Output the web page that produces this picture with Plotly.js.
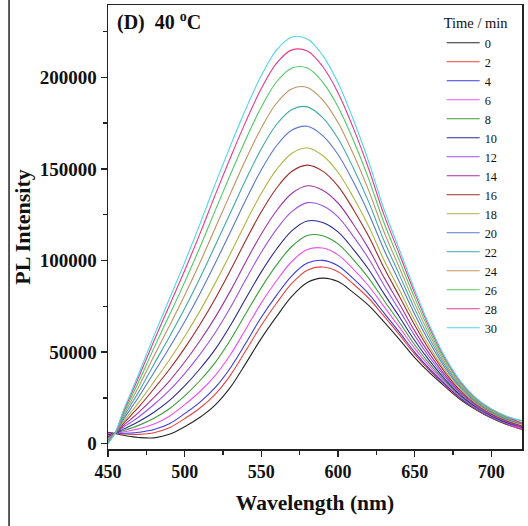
<!DOCTYPE html>
<html>
<head>
<meta charset="utf-8">
<script src="https://cdn.plot.ly/plotly-3.0.1.min.js"></script>
<style>html,body{margin:0;padding:0;background:#fff;}#chart{width:528px;height:526px;}</style>
</head>
<body>
<div id="chart"></div>
<script>
const wavelength = [450,455,460,465,470,480,490,500,510,520,530,540,550,560,570,580,590,600,610,620,630,640,650,660,670,680,690,700,710,720];
const timeLabels = ["0","2","4","6","8","10","12","14","16","18","20","22","24","26","28","30"];
const t0  = [6200,5500,4600,3900,3400,3200,5100,9200,14400,21200,31000,44000,57500,69500,80500,88000,90400,88500,82500,75500,66500,57000,47000,38500,31000,24000,18500,14000,10500,8000];
const t2  = [5900,5600,5300,5100,5100,6000,8700,13700,19500,27100,37600,51000,64700,76800,87600,94700,96500,93900,87200,79400,69600,59500,48900,39800,31800,24500,18800,14300,10700,7600];
const t4  = [5700,5600,5700,5800,6200,7700,10900,16400,22700,30700,41600,55100,69000,81100,91800,98600,100100,97200,90100,81800,71400,60900,50000,40500,32300,24800,19000,14400,10900,8200];
const t6  = [5400,5600,6400,7200,8100,10700,15000,21300,28500,37300,48800,62800,76900,89100,99600,106000,106800,103100,95300,86100,74800,63600,52000,41900,33200,25400,19400,14700,11100,8300];
const t8  = [5000,5700,7100,8500,10000,13900,19100,26100,34500,44400,56900,71200,85200,97600,107800,113700,113500,109100,100500,90400,78200,66300,54000,43300,34000,25900,19700,15000,11400,9400];
const t10 = [4700,5800,7950,9900,12100,17200,23500,31500,40900,51600,64800,79500,93800,106300,116300,121600,120800,115600,106100,95100,81900,69300,56300,44900,35000,26500,20100,15300,11600,9000];
const t12 = [4200,5800,9000,11700,14600,21400,29100,38300,48800,60700,74600,89900,104500,117100,126800,131600,129900,123800,113200,101000,86500,72900,59000,46800,36200,27300,20600,15600,12000,8800];
const t14 = [3800,5900,9900,13400,17100,25300,34200,44600,56200,69100,83700,99500,114500,127300,136700,140800,138400,131400,119800,106500,90800,76400,61600,48600,37300,28000,21100,16000,12300,9000];
const t16 = [3200,6000,11000,15500,20000,30000,40500,52200,65100,79300,94900,111200,126600,139600,148700,152100,148800,140600,127900,113200,96000,80500,64800,50700,38700,28800,21600,16400,12700,9600];
const t18 = [2800,6100,12000,17200,22400,33900,45700,58500,72500,87800,104100,120900,136700,149800,158600,161400,157300,148200,134500,118700,100300,84000,67400,52500,39800,29500,22100,16800,13000,10500];
const t20 = [2200,6100,13200,19300,25500,38900,52400,66600,82000,98600,115800,133300,149500,162800,171200,173300,168200,157900,143000,125700,105900,88400,70700,54800,41200,30400,22700,17200,13400,10900];
const t22 = [1700,6200,14200,21300,28300,43400,58300,73800,90500,108300,126300,144400,161000,174400,182500,183900,178000,166600,150500,132000,110800,92300,73600,56900,42500,31200,23200,17600,13700,11200];
const t24 = [1200,6300,15300,23200,31100,47900,64200,81000,98900,117900,136800,155400,172400,186000,193800,194500,187700,175300,158100,138300,115700,96200,76600,58900,43800,32000,23700,18000,14100,11600];
const t26 = [700,6400,16400,25100,33800,52300,70100,88200,107300,127500,147300,166400,183800,197600,205100,205100,197400,184000,165700,144600,120600,100100,79600,60900,45100,32800,24200,18400,14500,12600];
const t28 = [300,6500,17300,26800,36300,56200,75300,94500,114700,136000,156500,176100,193900,207800,215000,214400,205900,191600,172300,150100,124900,103600,82200,62700,46200,33500,24700,18800,14800,11000];
const t30 = [0,6500,18000,28000,38000,59000,79000,99000,120000,142000,163000,183000,201000,215000,222000,221000,212000,197000,177000,154000,128000,106000,84000,64000,47000,34000,25000,19000,15000,12500];

const series = [t0,t2,t4,t6,t8,t10,t12,t14,t16,t18,t20,t22,t24,t26,t28,t30];
const colors = ['#262626','#e5453f','#3b3be0','#f050f0','#3d9d3d','#2b2b8c','#9a52e6','#a0329f','#a02a2a','#b2b244','#5a78c8','#40a8a8','#c09262','#50c864','#e03c8c','#52d6e8'];

const traces = series.map((ys, i) => ({
  x: wavelength, y: ys, type: 'scatter', mode: 'lines',
  name: timeLabels[i],
  line: {color: colors[i], width: 1.1, shape: 'spline', smoothing: 1.0}
}));

const serif = 'Liberation Serif, Times New Roman, serif';
const layout = {
  width: 528, height: 526,
  margin: {l: 108, r: 6, t: 5, b: 77},
  paper_bgcolor: '#fff', plot_bgcolor: '#fff',
  showlegend: true,
  legend: {
    x: 0.806, xanchor: 'left', y: 0.99, yanchor: 'top',
    bgcolor: 'rgba(0,0,0,0)', borderwidth: 0,
    itemwidth: 33,
    font: {family: serif, size: 12.3, color: '#111'},
    title: {text: 'Time / min', font: {family: serif, size: 14.5, color: '#111'}},
    tracegroupgap: 0
  },
  xaxis: {
    range: [450, 720],
    tickvals: [450,500,550,600,650,700],
    ticks: 'outside', ticklen: 6, tickwidth: 1.5, tickcolor: '#222',
    minor: {dtick: 25, ticks: 'outside', ticklen: 4, tickwidth: 1.3, tickcolor: '#222', showgrid: false},
    showline: true, linewidth: 1.5, linecolor: '#222', mirror: true,
    showgrid: false, zeroline: false,
    tickfont: {family: serif, size: 18, weight: 'bold', color: '#111'},
    title: {text: 'Wavelength (nm)', font: {family: serif, size: 21.5, weight: 'bold', color: '#111'}, standoff: 14}
  },
  yaxis: {
    range: [-2900, 239500],
    tickvals: [0,50000,100000,150000,200000],
    tickformat: 'd',
    ticks: 'outside', ticklen: 6, tickwidth: 1.5, tickcolor: '#222',
    minor: {dtick: 25000, ticks: 'outside', ticklen: 4, tickwidth: 1.3, tickcolor: '#222', showgrid: false},
    showline: true, linewidth: 1.5, linecolor: '#222', mirror: true,
    showgrid: false, zeroline: false,
    tickfont: {family: serif, size: 19, weight: 'bold', color: '#111'},
    title: {text: 'PL Intensity', font: {family: serif, size: 22, weight: 'bold', color: '#111'}, standoff: 3}
  },
  annotations: [{
    xref: 'paper', yref: 'paper', x: 0.017, y: 0.963, xanchor: 'left', yanchor: 'middle',
    text: '(D)&nbsp; 40 <sup>o</sup>C', showarrow: false,
    font: {family: serif, size: 20, weight: 'bold', color: '#111'}
  }],
  shapes: [{
    type: 'line', xref: 'paper', yref: 'paper',
    x0: -0.239, x1: -0.239, y0: -0.18, y1: 1.02,
    line: {color: '#222', width: 1.5}
  }]
};

Plotly.newPlot('chart', traces, layout, {displayModeBar: false, staticPlot: true});
</script>
</body>
</html>
